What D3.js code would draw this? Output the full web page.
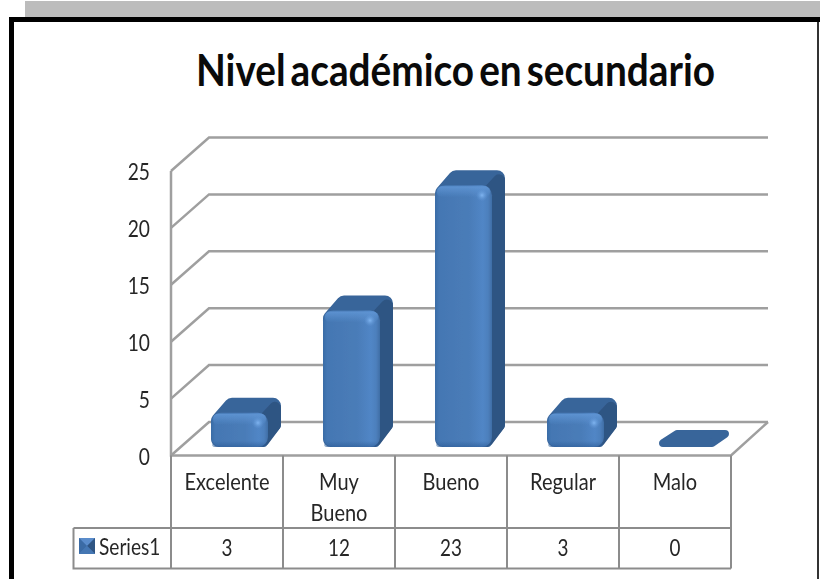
<!DOCTYPE html>
<html><head><meta charset="utf-8">
<script src="https://cdn.jsdelivr.net/npm/d3@7/dist/d3.min.js"></script>
<style>html,body{margin:0;padding:0;background:#fff;overflow:hidden}svg{display:block}text{font-family:Lato,sans-serif;fill:#262626}</style>
</head><body>
<script>
const titleText = "Nivel académico en secundario";
const categories = ["Excelente","Muy Bueno","Bueno","Regular","Malo"];
const seriesName = "Series1";
const seriesValues = [3,12,23,3,0];
const yTicks = [0,5,10,15,20,25];

const W=820,H=579;
const svg=d3.select("body").append("svg").attr("width",W).attr("height",H);
const defs=svg.append("defs");
const soft=defs.append("filter").attr("id","soft").attr("x","-5%").attr("y","-5%").attr("width","110%").attr("height","110%");
soft.append("feGaussianBlur").attr("stdDeviation",0.7);
const txtSoft=defs.append("filter").attr("id","txt");
txtSoft.append("feGaussianBlur").attr("stdDeviation",0.3);
const fg=defs.append("linearGradient").attr("id","front");
[[0,"#3a6ca6"],[0.07,"#4477b3"],[0.6,"#4a7cb8"],[0.84,"#5186c6"],[0.93,"#4d80bd"],[1,"#3f6ea6"]].forEach(s=>fg.append("stop").attr("offset",s[0]).attr("stop-color",s[1]));
const bev=defs.append("linearGradient").attr("id","bevel").attr("x1",0).attr("y1",0).attr("x2",0).attr("y2",1);
[[0,"#5f95d4",0.9],[1,"#5f95d4",0]].forEach(s=>bev.append("stop").attr("offset",s[0]).attr("stop-color",s[1]).attr("stop-opacity",s[2]));
const spark=defs.append("radialGradient").attr("id","spark");
[[0,"#7fb4f0",1],[1,"#5f95d4",0]].forEach(s=>spark.append("stop").attr("offset",s[0]).attr("stop-color",s[1]).attr("stop-opacity",s[2]));
const bot=defs.append("linearGradient").attr("id","bottom").attr("x1",0).attr("y1",0).attr("x2",0).attr("y2",1);
[[0,"#2f5f9a",0],[1,"#2f5f9a",0.7]].forEach(s=>bot.append("stop").attr("offset",s[0]).attr("stop-color",s[1]).attr("stop-opacity",s[2]));

// page furniture
svg.append("rect").attr("x",25).attr("y",1).attr("width",795).attr("height",16).attr("fill","#bcbcbc");
svg.append("path").attr("d","M11.5 579V19.5H820").attr("fill","none").attr("stroke","#000").attr("stroke-width",5);
svg.append("rect").attr("x",817).attr("y",22).attr("width",2).attr("height",557).attr("fill","#333");

const squeeze=(sel,f)=>sel.each(function(){
  d3.select(this).attr("textLength",this.getComputedTextLength()*f).attr("lengthAdjust","spacingAndGlyphs");
});

svg.append("text").text(titleText).attr("x",196).attr("y",86).attr("font-size",44).attr("font-weight",700)
  .attr("word-spacing",-5).attr("textLength",519).attr("lengthAdjust","spacingAndGlyphs").style("fill","#0a0a0a");

// scales
const x=d3.scaleBand().domain(categories).range([171,731]);
const y=d3.scaleLinear().domain([0,25]).range([455.5,171]);
const dx=38,dy=-33.5, grid="#9f9f9f";

// walls
const g=svg.append("g").attr("fill","none").attr("stroke",grid).attr("stroke-width",2.5);
yTicks.forEach(t=>{
  const yy=y(t);
  g.append("path").attr("d",`M171 ${yy}L${171+dx} ${yy+dy}H${731+dx-1}`);
});
g.append("path").attr("d",`M171 ${y(25)}V${y(0)}H731L${731+dx-1} ${y(0)+dy}`);

// y axis labels
const ax=svg.append("g").attr("transform","translate(150,0)")
  .call(d3.axisLeft(y).tickValues(yTicks).tickSize(0).tickPadding(0));
ax.select(".domain").remove();
ax.selectAll("text").attr("font-size",24).attr("font-family","Lato").attr("dy","0.36em").attr("filter","url(#txt)").call(squeeze,0.8);

// bars
const w=57,ox=40,base=447,ddx=13,ddy=-15;
const k=y(0)-y(1);
const bars=svg.append("g").attr("filter","url(#soft)");
const topCol="#39659a",sideCol="#2f5583";
categories.forEach((c,i)=>{
  const v=seriesValues[i], bx=x(c)+ox, top=base-v*k;
  const b=bars.append("g");
  if(v>0){
    const r=8;
    b.append("path").attr("d",`M${bx+r} ${top+r}L${bx+ddx+r} ${top+ddy+r}H${bx+w+ddx-r}V${base+ddy-r}L${bx+w-r} ${base-r}H${bx+r}Z`)
      .attr("fill",topCol).attr("stroke",topCol).attr("stroke-width",r*2).attr("stroke-linejoin","round");
    b.append("path").attr("d",`M${bx+w-5} ${top+8}L${bx+w+ddx-6} ${top+ddy+10}V${base+ddy-7}L${bx+w-5} ${base-6}Z`)
      .attr("fill",sideCol).attr("stroke",sideCol).attr("stroke-width",12).attr("stroke-linejoin","round");
    b.append("rect").attr("x",bx).attr("y",top).attr("width",w).attr("height",base-top).attr("rx",10).attr("fill","url(#front)");
    b.append("rect").attr("x",bx+2).attr("y",top+1).attr("width",w-4).attr("height",11).attr("rx",5).attr("fill","url(#bevel)");
    b.append("rect").attr("x",bx+1).attr("y",base-6).attr("width",w-2).attr("height",6).attr("rx",3).attr("fill","url(#bottom)");
    b.append("circle").attr("cx",bx+w-10).attr("cy",top+10).attr("r",6).attr("fill","url(#spark)");
  } else {
    const r=4,h=-17;
    b.append("path").attr("d",`M${bx+r} ${top-r}L${bx+ddx+r+1} ${top+h+r}H${bx+w+ddx-r}L${bx+w-r} ${top-r}Z`)
      .attr("fill",topCol).attr("stroke",topCol).attr("stroke-width",r*2).attr("stroke-linejoin","round");
  }
});

// data table
const rowTop=528,tableBottom=568.5,keyLeft=73.5;
const t=svg.append("g").attr("fill","none").attr("stroke","#8c8c8c").attr("stroke-width",2);
x.domain().forEach(c=>t.append("path").attr("d",`M${x(c)} ${y(0)}V${tableBottom}`));
t.append("path").attr("d",`M731 ${y(0)}V${tableBottom}`);
t.append("path").attr("d",`M${keyLeft} ${rowTop}H731M${keyLeft} ${rowTop}V${tableBottom}H731`);

const labels=svg.append("g").attr("filter","url(#txt)");
categories.forEach((c,i)=>{
  const cx=x(c)+x.bandwidth()/2;
  c.split(" ").forEach((line,j)=>labels.append("text").text(line).attr("x",cx).attr("y",490+j*31)
    .attr("text-anchor","middle").attr("font-size",23).call(squeeze,0.87));
  labels.append("text").text(seriesValues[i]).attr("x",cx).attr("y",556).attr("text-anchor","middle").attr("font-size",23).call(squeeze,0.82);
});
labels.append("text").text(seriesName).attr("x",99).attr("y",555).attr("font-size",23).call(squeeze,0.83);

// legend key
const kx=79,ky=538,ks=16;
const key=svg.append("g");
key.append("rect").attr("x",kx).attr("y",ky).attr("width",ks).attr("height",ks).attr("fill","#4a7ebb");
key.append("path").attr("d",`M${kx} ${ky}H${kx+ks}L${kx+ks/2} ${ky+ks/2}Z`).attr("fill","#5a8ccb");
key.append("path").attr("d",`M${kx} ${ky}V${ky+ks}L${kx+ks/2} ${ky+ks/2}Z`).attr("fill","#3b6ba5");
key.append("path").attr("d",`M${kx+ks} ${ky}V${ky+ks}L${kx+ks/2} ${ky+ks/2}Z`).attr("fill","#2f5583");
key.append("path").attr("d",`M${kx} ${ky+ks}H${kx+ks}L${kx+ks/2} ${ky+ks/2}Z`).attr("fill","#4577b3");
</script>
</body></html>
